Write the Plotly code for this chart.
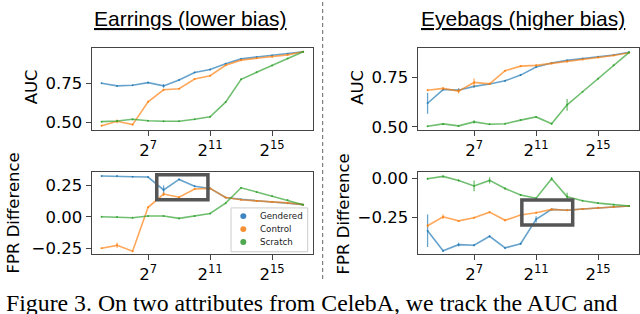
import math
import plotly.graph_objects as go

W, H = 640, 314

# ---------------- data ----------------
sizes = [2 ** k for k in range(4, 18)]
series_names = ["Gendered", "Control", "Scratch"]

# Earrings – AUC
ear_auc_gendered = [0.750, 0.733, 0.737, 0.754, 0.733, 0.771, 0.819, 0.838, 0.875, 0.906, 0.918, 0.928, 0.938, 0.952]
ear_auc_control = [0.478, 0.506, 0.485, 0.631, 0.708, 0.715, 0.777, 0.798, 0.865, 0.898, 0.910, 0.920, 0.932, 0.952]
ear_auc_scratch = [0.504, 0.508, 0.519, 0.510, 0.506, 0.506, 0.519, 0.535, 0.629, 0.775, 0.820, 0.864, 0.908, 0.952]
ear_auc_gendered_err = [0.004, 0.004, 0.004, 0.004, 0.012, 0.004, 0.004, 0.004, 0.004, 0.004, 0.003, 0.003, 0.003, 0.003]
ear_auc_control_err = [0.006, 0.012, 0.004, 0.006, 0.006, 0.004, 0.004, 0.004, 0.004, 0.004, 0.003, 0.003, 0.003, 0.003]
ear_auc_scratch_err = [0.004, 0.004, 0.004, 0.004, 0.004, 0.004, 0.004, 0.004, 0.004, 0.004, 0.003, 0.003, 0.003, 0.003]

# Earrings – FPR difference
ear_fpr_gendered = [0.327, 0.327, 0.322, 0.319, 0.216, 0.300, 0.246, 0.228, 0.155, 0.140, 0.128, 0.119, 0.110, 0.098]
ear_fpr_control = [-0.251, -0.228, -0.275, 0.077, 0.183, 0.158, 0.223, 0.228, 0.155, 0.137, 0.128, 0.120, 0.112, 0.098]
ear_fpr_scratch = [0.001, 0.000, -0.007, 0.007, 0.007, -0.012, 0.007, 0.027, 0.110, 0.233, 0.200, 0.168, 0.135, 0.098]
ear_fpr_gendered_err = [0.005, 0.005, 0.005, 0.005, 0.035, 0.005, 0.005, 0.005, 0.005, 0.005, 0.004, 0.004, 0.004, 0.004]
ear_fpr_control_err = [0.006, 0.02, 0.006, 0.006, 0.015, 0.006, 0.006, 0.006, 0.005, 0.005, 0.004, 0.004, 0.004, 0.004]
ear_fpr_scratch_err = [0.005, 0.005, 0.005, 0.005, 0.005, 0.005, 0.005, 0.005, 0.005, 0.005, 0.004, 0.004, 0.004, 0.004]

# Eyebags – AUC
eye_auc_gendered = [0.619, 0.688, 0.685, 0.704, 0.716, 0.732, 0.761, 0.802, 0.822, 0.835, 0.844, 0.853, 0.862, 0.876]
eye_auc_control = [0.685, 0.694, 0.680, 0.724, 0.717, 0.783, 0.806, 0.810, 0.820, 0.830, 0.840, 0.850, 0.860, 0.874]
eye_auc_scratch = [0.503, 0.515, 0.505, 0.525, 0.513, 0.516, 0.534, 0.550, 0.516, 0.611, 0.677, 0.743, 0.810, 0.876]
eye_auc_gendered_err = [0.053, 0.005, 0.01, 0.005, 0.005, 0.004, 0.004, 0.004, 0.004, 0.004, 0.003, 0.003, 0.003, 0.003]
eye_auc_control_err = [0.004, 0.006, 0.012, 0.02, 0.006, 0.004, 0.004, 0.004, 0.004, 0.004, 0.003, 0.003, 0.003, 0.003]
eye_auc_scratch_err = [0.004, 0.005, 0.004, 0.008, 0.004, 0.004, 0.004, 0.004, 0.004, 0.03, 0.003, 0.003, 0.003, 0.003]

# Eyebags – FPR difference
eye_fpr_gendered = [-0.339, -0.470, -0.430, -0.434, -0.375, -0.451, -0.424, -0.265, -0.200, -0.206, -0.197, -0.190, -0.184, -0.178]
eye_fpr_control = [-0.307, -0.248, -0.275, -0.254, -0.218, -0.271, -0.237, -0.222, -0.200, -0.206, -0.197, -0.190, -0.184, -0.178]
eye_fpr_scratch = [0.000, 0.015, -0.011, -0.047, -0.011, -0.064, -0.106, -0.127, 0.000, -0.117, -0.144, -0.159, -0.169, -0.178]
eye_fpr_gendered_err = [0.106, 0.006, 0.012, 0.006, 0.006, 0.006, 0.006, 0.02, 0.005, 0.005, 0.004, 0.004, 0.004, 0.004]
eye_fpr_control_err = [0.01, 0.015, 0.006, 0.006, 0.006, 0.006, 0.006, 0.006, 0.005, 0.005, 0.004, 0.004, 0.004, 0.004]
eye_fpr_scratch_err = [0.006, 0.006, 0.006, 0.035, 0.02, 0.006, 0.006, 0.006, 0.012, 0.025, 0.004, 0.004, 0.004, 0.004]

panel_titles = ["Earrings (lower bias)", "Eyebags (higher bias)"]
xtick_vals = [2 ** 7, 2 ** 11, 2 ** 15]
xtick_text = ["2<sup>7</sup>", "2<sup>11</sup>", "2<sup>15</sup>"]
auc_ticks = [0.50, 0.75]
auc_tick_text = ["0.50", "0.75"]
ear_fpr_ticks = [-0.25, 0.0, 0.25]
ear_fpr_tick_text = ["\u22120.25", "0.00", "0.25"]
eye_fpr_ticks = [-0.25, 0.0]
eye_fpr_tick_text = ["\u22120.25", "0.00"]
caption = "Figure 3. On two attributes from CelebA, we track the AUC and"

# ---------------- style ----------------
line_colors = ["rgba(31,119,180,0.68)", "rgba(255,127,14,0.68)", "rgba(44,160,44,0.68)"]
dot_colors = ["#3d85c0", "#f79035", "#4fa84f"]
FRAME = "#444444"
TICKFONT = dict(family="DejaVu Sans", size=16.5, color="black")


def px(x):
    return x / W


def py(y):
    return 1 - y / H


fig = go.Figure()

panels = [
    ("x", "y", [ear_auc_gendered, ear_auc_control, ear_auc_scratch],
     [ear_auc_gendered_err, ear_auc_control_err, ear_auc_scratch_err]),
    ("x2", "y2", [ear_fpr_gendered, ear_fpr_control, ear_fpr_scratch],
     [ear_fpr_gendered_err, ear_fpr_control_err, ear_fpr_scratch_err]),
    ("x3", "y3", [eye_auc_gendered, eye_auc_control, eye_auc_scratch],
     [eye_auc_gendered_err, eye_auc_control_err, eye_auc_scratch_err]),
    ("x4", "y4", [eye_fpr_gendered, eye_fpr_control, eye_fpr_scratch],
     [eye_fpr_gendered_err, eye_fpr_control_err, eye_fpr_scratch_err]),
]

for xa, ya, ys, errs in panels:
    for name, yv, ev, c in zip(series_names, ys, errs, line_colors):
        fig.add_trace(go.Scatter(
            x=sizes, y=yv, xaxis=xa, yaxis=ya, name=name, showlegend=False,
            mode="lines+markers", line=dict(color=c, width=1.6),
            marker=dict(color=c, size=2),
            error_y=dict(type="data", array=ev, visible=True, color=c, thickness=1.3, width=0),
        ))

xrange_log = [3.35 * math.log10(2), 17.65 * math.log10(2)]


def xaxis(domain, anchor):
    return dict(domain=domain, anchor=anchor, type="log", range=xrange_log,
                tickvals=xtick_vals, ticktext=xtick_text, ticks="outside", ticklen=5,
                tickcolor=FRAME, tickfont=TICKFONT, showgrid=False, zeroline=False,
                showline=True, mirror=True, linecolor=FRAME, linewidth=1)


def yaxis(domain, anchor, rng, tv, tt):
    return dict(domain=domain, anchor=anchor, range=rng, tickvals=tv, ticktext=tt,
                ticks="outside", ticklen=5, tickcolor=FRAME, tickfont=TICKFONT,
                showgrid=False, zeroline=False, showline=True, mirror=True,
                linecolor=FRAME, linewidth=1)


left_x = [px(91.5), px(313.2)]
right_x = [px(417.5), px(639.2)]
top_y = [py(131.8), py(46.7)]
bot_y = [py(258.7), py(174)]

fig.update_layout(
    width=W, height=H, margin=dict(l=0, r=0, t=0, b=0),
    paper_bgcolor="white", plot_bgcolor="white", showlegend=False,
    xaxis=xaxis(left_x, "y"),
    yaxis=yaxis(top_y, "x", [0.4475, 0.979], auc_ticks, auc_tick_text),
    xaxis2=xaxis(left_x, "y2"),
    yaxis2=yaxis(bot_y, "x2", [-0.298, 0.363], ear_fpr_ticks, ear_fpr_tick_text),
    xaxis3=xaxis(right_x, "y3"),
    yaxis3=yaxis(top_y, "x3", [0.482, 0.90], auc_ticks, auc_tick_text),
    xaxis4=xaxis(right_x, "y4"),
    yaxis4=yaxis(bot_y, "x4", [-0.4915, 0.0466], eye_fpr_ticks, eye_fpr_tick_text),
)

shapes = []
# highlight boxes
shapes.append(dict(type="rect", xref="x2", yref="y2", x0=2 ** 7.56, x1=2 ** 10.86,
                   y0=0.137, y1=0.337, line=dict(color="#555555", width=3.5)))
shapes.append(dict(type="rect", xref="x4", yref="y4", x0=2 ** 10.08, x1=2 ** 13.36,
                   y0=-0.301, y1=-0.138, line=dict(color="#555555", width=3.5)))
# divider
shapes.append(dict(type="line", xref="paper", yref="paper", x0=px(322.7), x1=px(322.7),
                   y0=py(0), y1=py(285), line=dict(color="#666666", width=1, dash="4px,3px")))
# legend box
shapes.append(dict(type="rect", xref="paper", yref="paper", x0=px(231), x1=px(307.7),
                   y0=py(256.3), y1=py(211.3), line=dict(color="#cccccc", width=1),
                   fillcolor="rgba(255,255,255,0.85)"))
legend_rows = [219.7, 233.0, 246.3]
for yy, c in zip(legend_rows, dot_colors):
    r = 3.0
    shapes.append(dict(type="circle", xref="paper", yref="paper",
                       x0=px(243.3 - r), x1=px(243.3 + r), y0=py(yy + r), y1=py(yy - r),
                       fillcolor=c, line=dict(width=0)))
fig.update_layout(shapes=shapes)

ann = []
for name, yy in zip(series_names, legend_rows):
    ann.append(dict(text=name, xref="paper", yref="paper", x=px(258), y=py(yy),
                    xanchor="left", yanchor="middle", showarrow=False,
                    font=dict(family="DejaVu Sans", size=8.7, color="#222222")))
# titles
for t, cx in zip(panel_titles, [190, 522.5]):
    ann.append(dict(text="<u>" + t + "</u>", xref="paper", yref="paper", x=px(cx), y=py(16.5),
                    xanchor="center", yanchor="middle", showarrow=False,
                    font=dict(family="Liberation Sans", size=21, color="black")))
# axis titles
for t, cx, cy in [("AUC", 31, 87.5), ("FPR Difference", 13.5, 216.5),
                  ("AUC", 357.5, 87.5), ("FPR Difference", 343, 218)]:
    ann.append(dict(text=t, xref="paper", yref="paper", x=px(cx), y=py(cy), textangle=-90,
                    xanchor="center", yanchor="middle", showarrow=False,
                    font=dict(family="DejaVu Sans", size=16.5, color="black")))
# caption
ann.append(dict(text=caption, xref="paper", yref="paper", x=px(4), y=py(309),
                xanchor="left", yanchor="middle", showarrow=False,
                font=dict(family="Liberation Serif", size=23.8, color="black")))
fig.update_layout(annotations=ann)

fig.write_html("out.html", config={"displayModeBar": False},
               post_script="document.body.style.margin='0px';")
